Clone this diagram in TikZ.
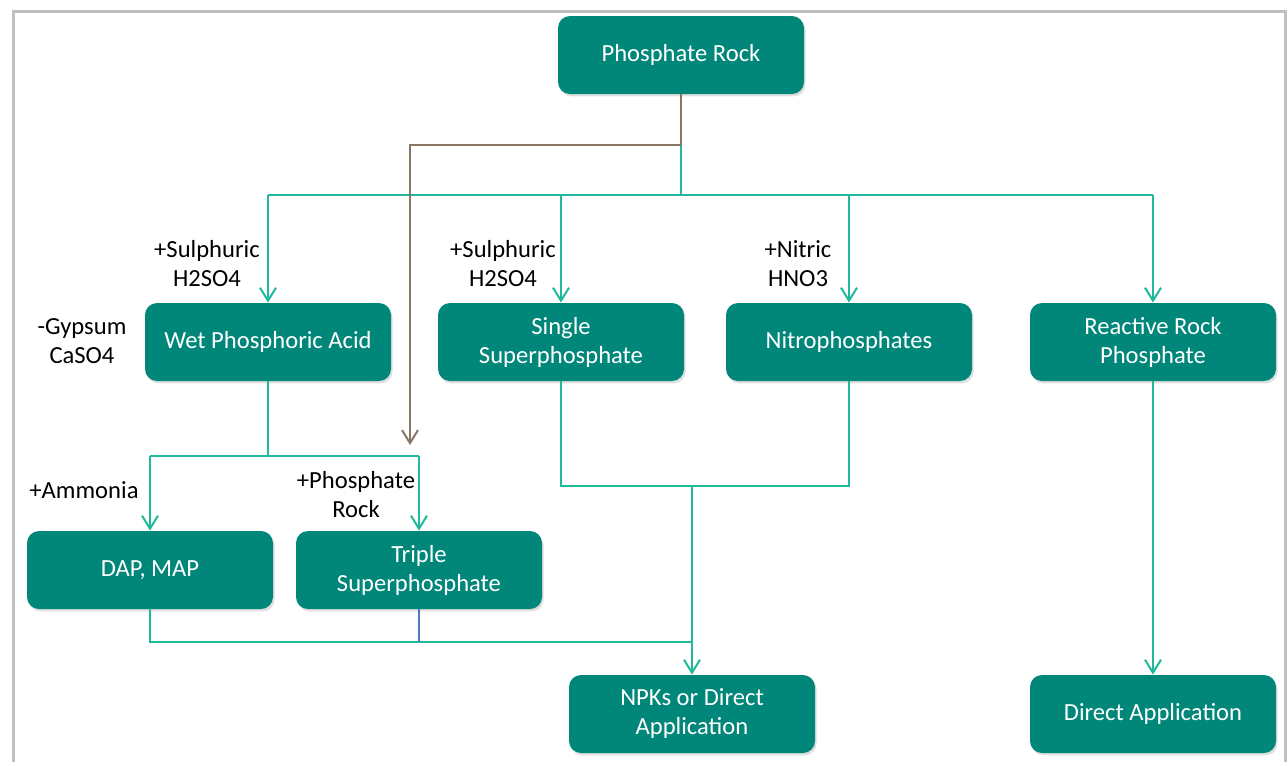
\documentclass[tikz,border=0pt]{standalone}
\usepackage{fontspec}
\setmainfont{Carlito}
\usepackage{xcolor}
\usetikzlibrary{positioning,calc,shadows,arrows.meta}

\definecolor{boxteal}{RGB}{0,135,122}
\definecolor{lineteal}{RGB}{32,185,155}
\definecolor{rockbrown}{RGB}{137,119,101}
\definecolor{joinblue}{RGB}{80,120,190}
\definecolor{framegray}{RGB}{191,191,191}

\begin{document}
\begin{tikzpicture}[
    x=0.5pt, y=-0.5pt,
    box/.style={draw=none, fill=boxteal, rounded corners=6pt, minimum width=123pt, minimum height=39pt,
        inner sep=0pt, align=center, text=white, font=\fontsize{12.3}{14.5}\selectfont,
        drop shadow={opacity=0.25, shadow xshift=0.8pt, shadow yshift=-1.2pt}},
    lbl/.style={align=center, inner sep=0pt, font=\fontsize{12.3}{14.5}\selectfont},
    link/.style={draw=lineteal, line width=1pt},
    rocklink/.style={draw=rockbrown, line width=1pt},
    bluelink/.style={draw=joinblue, line width=1pt},
    tip/.style={-{Straight Barb[length=6.5pt,width=8pt]}}
]
    \useasboundingbox (0,0) rectangle (1287,762);
    \draw[framegray, line width=1.5pt] (13,762) -- (13,11) -- (1285,11) -- (1285,762);

    % Boxes
    \node [box] (rock)   at (681,55)  {Phosphate Rock};
    \node [box] (wpa)    at (268,342) {Wet Phosphoric Acid};
    \node [box] (ssp)    at (561,342) {Single\\Superphosphate};
    \node [box] (nitro)  at (849,342) {Nitrophosphates};
    \node [box] (rrp)    at (1153,342) {Reactive Rock\\Phosphate};
    \node [box] (dap)    at (150,570) {DAP, MAP};
    \node [box] (tsp)    at (419,570) {Triple\\Superphosphate};
    \node [box] (npk)    at (692,714) {NPKs or Direct\\Application};
    \node [box] (direct) at (1153,714) {Direct Application};

    % Labels
    \node [lbl] (sulA)    at (207,264) {+Sulphuric\\H2SO4};
    \node [lbl] (gypsum)  at (82,341)  {-Gypsum\\CaSO4};
    \node [lbl] (sulB)    at (503,264) {+Sulphuric\\H2SO4};
    \node [lbl] (nitric)  at (798,264) {+Nitric\\HNO3};
    \node [lbl] (ammonia) at (84,490)  {+Ammonia};
    \node [lbl] (addrock) at (356,495) {+Phosphate\\Rock};

    % Split points
    \coordinate (split)  at (681,195);
    \coordinate (kink)   at (681,145);
    \coordinate (rocktip) at (410,445);
    \coordinate (wsplit) at (268,456);
    \coordinate (sjoin)  at (692,486);
    \coordinate (bjoin)  at (692,642);

    % Phosphate rock to the four routes
    \draw [link] (rock.south) -- (split);
    \draw [link] (wpa.north |- split) -- (rrp.north |- split);
    \foreach \n in {wpa, ssp, nitro, rrp} {
        \draw [link, tip] (\n.north |- split) -- (\n.north);
    }
    \draw [rocklink, tip] (rock.south) -- (kink) -| (rocktip);

    % Wet phosphoric acid
    \draw [link] (wpa.south) -- (wsplit);
    \draw [link] (dap.north |- wsplit) -- (tsp.north |- wsplit);
    \foreach \n in {dap, tsp} {
        \draw [link, tip] (\n.north |- wsplit) -- (\n.north);
    }

    % Into NPKs
    \draw [link] (ssp.south) -- (ssp.south |- sjoin) -- (nitro.south |- sjoin) -- (nitro.south);
    \draw [link, tip] (sjoin) -- (npk.north);
    \draw [link] (dap.south) |- (bjoin);
    \draw [bluelink] (tsp.south) -- (tsp.south |- bjoin);

    % Reactive rock
    \draw [link, tip] (rrp.south) -- (direct.north);
\end{tikzpicture}
\end{document}
